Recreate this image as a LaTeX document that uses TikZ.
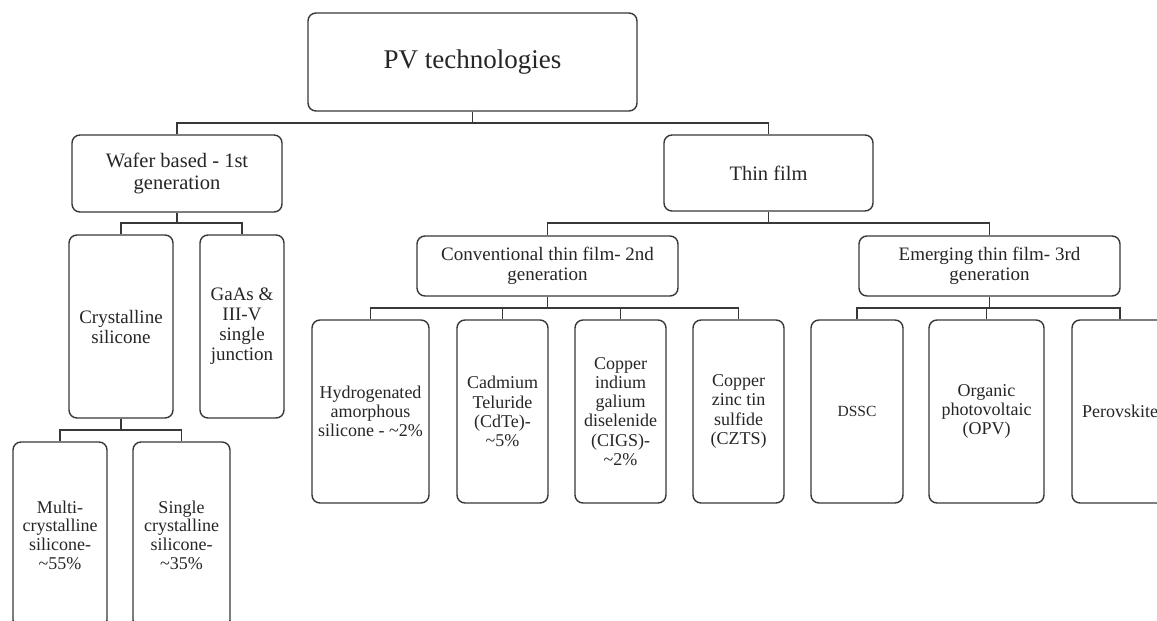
\documentclass[tikz,border=0pt]{standalone}
\usepackage{fontspec}
\setmainfont{Liberation Serif}
\begin{document}
\begin{tikzpicture}[x=1pt,y=-1pt,
  box/.style={draw=black!78, line width=1.4pt, rounded corners=8pt, align=center, inner sep=0pt, text=black!85},
  conn/.style={draw=black!78, line width=1.4pt},
  leaf/.style={box, minimum height=183pt, font=\fontsize{18}{19.2}\selectfont}]
\clip (0,0) rectangle (1157,621);
\fill[white] (0,0) rectangle (1157,621);
% level 0
\node[box, minimum width=329pt, minimum height=98pt, font=\fontsize{27}{30}\selectfont] (root) at (472.5,62) {PV technologies};
% level 1
\node[box, minimum width=210pt, minimum height=77pt, font=\fontsize{20.5}{21.5}\selectfont] (wafer) at (177,173.5) {Wafer based - 1st\\generation};
\node[box, minimum width=209pt, minimum height=76pt, font=\fontsize{20.5}{21.5}\selectfont] (thin) at (768.5,173) {Thin film};
% level 2 (wafer)
\node[box, minimum width=104pt, minimum height=183pt, font=\fontsize{19}{20}\selectfont] (cryst) at (121,326.5) {Crystalline\\silicone};
\node[box, minimum width=84pt, minimum height=183pt, font=\fontsize{19}{20}\selectfont] (gaas) at (242,326.5) {GaAs \&\\III-V\\single\\junction};
% level 3 (crystalline)
\node[box, minimum width=94pt, minimum height=186pt, font=\fontsize{18}{18.6}\selectfont] (multi) at (60,535) {Multi-\\crystalline\\silicone-\\\textasciitilde55\%};
\node[box, minimum width=97pt, minimum height=186pt, font=\fontsize{18}{18.6}\selectfont] (single) at (181.5,535) {Single\\crystalline\\silicone-\\\textasciitilde35\%};
% level 2 (thin film)
\node[box, minimum width=261pt, minimum height=60pt, font=\fontsize{19}{20}\selectfont] (conv) at (547.5,266) {Conventional thin film- 2nd\\generation};
\node[box, minimum width=261pt, minimum height=60pt, font=\fontsize{19}{20}\selectfont] (emerg) at (989.5,266) {Emerging thin film- 3rd\\generation};
% level 3 (conventional)
\node[leaf, minimum width=117pt] (hydro) at (370.5,411.5) {Hydrogenated\\amorphous\\silicone - \textasciitilde2\%};
\node[leaf, minimum width=91pt] (cad) at (502.5,411.5) {Cadmium\\Teluride\\(CdTe)-\\\textasciitilde5\%};
\node[leaf, minimum width=91pt] (cigs) at (620.5,411.5) {Copper\\indium\\galium\\diselenide\\(CIGS)-\\\textasciitilde2\%};
\node[leaf, minimum width=91pt] (czts) at (738.5,411.5) {Copper\\zinc tin\\sulfide\\(CZTS)};
% level 3 (emerging)
\node[leaf, minimum width=92pt, font=\fontsize{15.5}{17}\selectfont] (dssc) at (857,411.5) {DSSC};
\node[leaf, minimum width=115pt] (opv) at (986.5,411.5) {Organic\\photovoltaic\\(OPV)};
\node[leaf, minimum width=96pt] (perov) at (1120,411.5) {Perovskite};
% bus levels
\coordinate (b1) at (0,123);
\coordinate (b2) at (0,223);
\coordinate (b3) at (0,430);
\coordinate (b4) at (0,308);
% connectors
\draw[conn] (root.south) -- (root.south |- b1);
\draw[conn] (wafer.north) |- (thin.north |- b1) -- (thin.north);
\draw[conn] (wafer.south) -- (wafer.south |- b2);
\draw[conn] (cryst.north) |- (gaas.north |- b2) -- (gaas.north);
\draw[conn] (thin.south) -- (thin.south |- b2);
\draw[conn] (conv.north) |- (emerg.north |- b2) -- (emerg.north);
\draw[conn] (cryst.south) -- (cryst.south |- b3);
\draw[conn] (multi.north) |- (single.north |- b3) -- (single.north);
\draw[conn] (conv.south) -- (conv.south |- b4);
\draw[conn] (hydro.north) |- (czts.north |- b4) -- (czts.north);
\draw[conn] (cad.north) -- (cad.north |- b4);
\draw[conn] (cigs.north) -- (cigs.north |- b4);
\draw[conn] (emerg.south) -- (emerg.south |- b4);
\draw[conn] (dssc.north) |- (perov.north |- b4) -- (perov.north);
\draw[conn] (opv.north) -- (opv.north |- b4);
\end{tikzpicture}
\end{document}
